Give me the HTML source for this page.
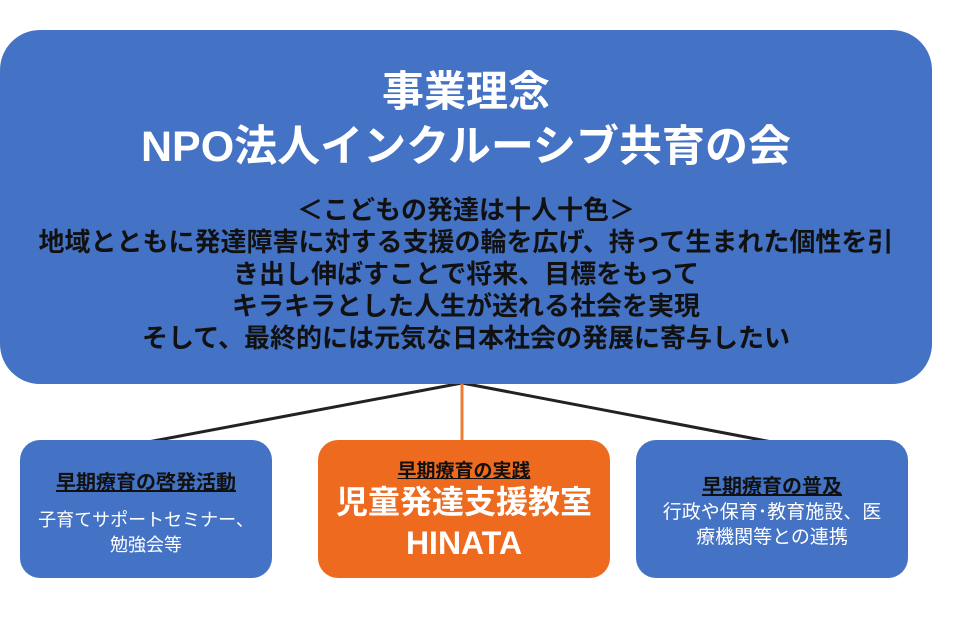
<!DOCTYPE html>
<html><head><meta charset="utf-8"><style>
body{margin:0;width:960px;height:640px;background:#fff;overflow:hidden;position:relative;font-family:"Liberation Sans","Noto Sans CJK JP",sans-serif}
.b{position:absolute;background:#4472c4;border-radius:28px;text-align:center}
.t{position:absolute;left:0;width:100%;text-align:center;white-space:nowrap}
</style></head><body>
<svg width="960" height="640" style="position:absolute;left:0;top:0">
<line x1="462" y1="383" x2="148" y2="442" stroke="#222" stroke-width="3"/>
<line x1="462" y1="383" x2="772" y2="442" stroke="#222" stroke-width="3"/>
<line x1="462" y1="383" x2="462" y2="442" stroke="#ed7d31" stroke-width="3"/>
</svg>
<div class="b" style="left:0;top:30px;width:932px;height:354px;border-radius:40px">
<div class="t" style="top:28px;font-size:42px;color:#fff;font-weight:bold">事業理念</div>
<div class="t" style="top:82px;font-size:43px;color:#fff;font-weight:bold">NPO法人インクルーシブ共育の会</div>
<div class="t" style="top:164px;font-size:26px;line-height:32px;color:#111;font-weight:bold">＜こどもの発達は十人十色＞<br>地域とともに発達障害に対する支援の輪を広げ、持って生まれた個性を引<br>き出し伸ばすことで将来、目標をもって<br>キラキラとした人生が送れる社会を実現<br>そして、最終的には元気な日本社会の発展に寄与したい</div>
</div>
<div class="b" style="left:20px;top:440px;width:252px;height:138px;border-radius:20px">
<div class="t" style="top:26px;font-size:20px;font-weight:bold;color:#111;text-decoration:underline">早期療育の啓発活動</div>
<div class="t" style="top:68px;font-size:18px;line-height:25px;color:#fff">子育てサポートセミナー、<br>勉強会等</div>
</div>
<div class="b" style="left:318px;top:440px;width:292px;height:138px;background:#ed6a1f;border-radius:20px">
<div class="t" style="top:16px;font-size:19px;font-weight:bold;color:#111;text-decoration:underline">早期療育の実践</div>
<div class="t" style="top:42px;font-size:32px;line-height:41px;color:#fff;font-weight:bold">児童発達支援教室<br>HINATA</div>
</div>
<div class="b" style="left:636px;top:440px;width:272px;height:138px;border-radius:20px">
<div class="t" style="top:30px;font-size:20px;font-weight:bold;color:#111;text-decoration:underline">早期療育の普及</div>
<div class="t" style="top:60px;font-size:19px;line-height:25px;color:#fff">行政や保育･教育施設、医<br>療機関等との連携</div>
</div>
</body></html>
